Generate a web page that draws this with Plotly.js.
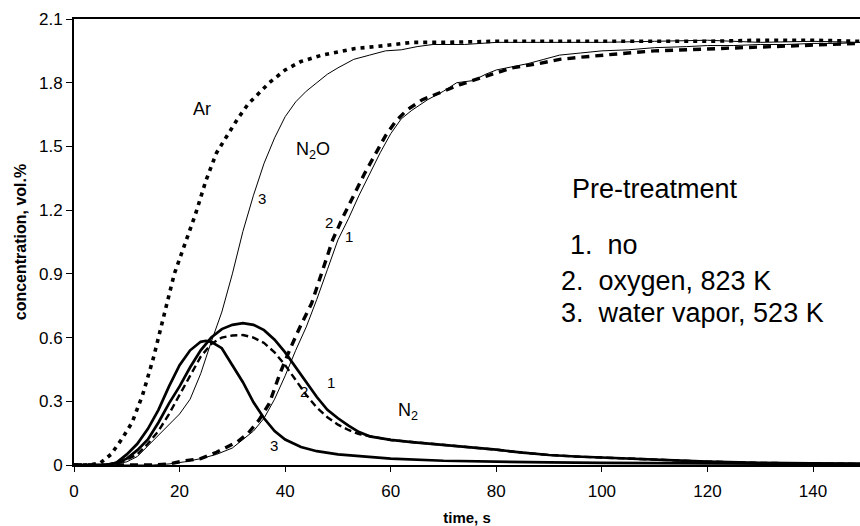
<!DOCTYPE html>
<html>
<head>
<meta charset="utf-8">
<script src="https://cdn.plot.ly/plotly-3.0.1.min.js"></script>
<style>html,body{margin:0;padding:0;background:#fff;}#chart{width:860px;height:526px;}</style>
</head>
<body>
<div id="chart"></div>
<script>
// ---- data ----
const arT = [0,3,5,7,9,11,13,15,17,19,21,23,25,27,29,31,33,35,37,40,43,47,53,59,64,70,80,90,100,110,120,130,140,149];
const arC = [0,0,0.01,0.05,0.12,0.2,0.33,0.5,0.7,0.9,1.04,1.18,1.34,1.47,1.55,1.63,1.7,1.75,1.8,1.86,1.9,1.93,1.96,1.975,1.99,1.99,1.995,1.995,1.995,1.995,1.995,2.0,2.0,1.995];

const n2o3T = [0,5,8,10,12,14,16,18,20,22,24,26,28,30,32,34,36,38,40,42,44,46,48,50,53,56,59,62,65,68,74,80,90,100,110,120,130,140,149];
const n2o3C = [0,0,0.005,0.015,0.04,0.09,0.14,0.19,0.24,0.31,0.43,0.58,0.72,0.9,1.1,1.27,1.42,1.54,1.64,1.71,1.76,1.8,1.84,1.87,1.91,1.93,1.95,1.955,1.97,1.98,1.98,1.99,1.99,1.99,1.995,2.0,1.99,1.995,1.99];

const n2o1T = [0,15,18,21,24,27,30,32,34,36,38,40,42,44,46,48,50,52,54,56,58,60,62,64,67,70,72.5,75.6,78,80,83,86,89,92,96,100,105,110,116,120,125,130,135,140,145,149];
const n2o1C = [0,0,0.005,0.015,0.03,0.05,0.08,0.12,0.16,0.22,0.31,0.42,0.54,0.65,0.78,0.92,1.06,1.16,1.27,1.37,1.47,1.56,1.63,1.67,1.72,1.76,1.8,1.81,1.84,1.86,1.875,1.89,1.91,1.93,1.94,1.95,1.955,1.965,1.97,1.975,1.975,1.98,1.98,1.985,1.985,1.99];

const n2o2T = [0,15,18,21,24,27,29,31,33,35,37,39,41,43,45,47,49,51,53,55,57,59,61,63,66,70,73,78,83,88,92,96,100,105,110,115,120,125,130,135,140,145,149];
const n2o2C = [0,0,0.005,0.02,0.03,0.06,0.085,0.11,0.15,0.21,0.29,0.43,0.55,0.66,0.76,0.91,1.06,1.17,1.27,1.37,1.46,1.55,1.62,1.67,1.72,1.76,1.79,1.83,1.87,1.89,1.91,1.92,1.93,1.94,1.95,1.955,1.96,1.965,1.97,1.975,1.98,1.985,1.985];

const n23T = [0,6,8,10,12,14,16,18,20,22,24,25,26,28,30,32,34,36,38,40,43,46,50,55,60,70,80,90,100,120,140,149];
const n23C = [0,0,0.01,0.05,0.1,0.17,0.26,0.37,0.47,0.54,0.58,0.585,0.58,0.55,0.47,0.39,0.295,0.22,0.16,0.12,0.085,0.065,0.05,0.04,0.03,0.02,0.015,0.012,0.01,0.008,0.006,0.005];

const n21T = [0,6,8,10,12,14,16,18,20,22,24,26,28,30,32,34,36,38,40,42,44,46,48,50,52,54,56,58,60,64,70,77,80,85,90,95,100,105,111,120,130,140,149];
const n21C = [0,0,0.01,0.03,0.07,0.12,0.2,0.29,0.37,0.46,0.54,0.6,0.64,0.66,0.668,0.66,0.635,0.59,0.53,0.46,0.39,0.32,0.26,0.22,0.185,0.155,0.135,0.125,0.118,0.108,0.095,0.08,0.072,0.058,0.047,0.04,0.035,0.03,0.024,0.016,0.01,0.007,0.005];

const n22T = [0,6,8,10,12,14,16,18,20,22,24,26,28,30,32,34,36,38,40,42,44,46,48,50,52,54,56,58,60,64,70,77,80,85,90,95,100,105,111,120,130,140,149];
const n22C = [0,0,0.008,0.025,0.05,0.1,0.16,0.24,0.33,0.42,0.51,0.57,0.6,0.61,0.612,0.6,0.575,0.53,0.47,0.4,0.33,0.27,0.225,0.19,0.165,0.145,0.135,0.125,0.118,0.108,0.095,0.08,0.072,0.058,0.047,0.04,0.035,0.03,0.024,0.016,0.01,0.007,0.005];

const xTickVals = [0,20,40,60,80,100,120,140];
const yTickVals = [0,0.3,0.6,0.9,1.2,1.5,1.8,2.1];
const yTickText = ['0','0.3','0.6','0.9','1.2','1.5','1.8','2.1'];

const FONT = 'Liberation Sans, Arial, sans-serif';

const traces = [
  {x:n23T, y:n23C, mode:'lines', line:{color:'#000', width:2.7}},
  {x:n21T, y:n21C, mode:'lines', line:{color:'#000', width:2.7}},
  {x:n22T, y:n22C, mode:'lines', line:{color:'#000', width:2.4, dash:'7px,4px'}},
  {x:n2o3T, y:n2o3C, mode:'lines', line:{color:'#000', width:1}},
  {x:n2o1T, y:n2o1C, mode:'lines', line:{color:'#000', width:1}},
  {x:n2o2T, y:n2o2C, mode:'lines', line:{color:'#000', width:3.4, dash:'8px,6px'}},
  {x:arT, y:arC, mode:'lines', line:{color:'#000', width:3.6, dash:'4px,5px'}}
];

function ann(x, y, text, size, extra) {
  return Object.assign({x:x, y:y, xref:'x', yref:'y', text:text, showarrow:false,
    font:{family:FONT, size:size, color:'#000'}}, extra || {});
}

const annotations = [
  ann(24.2, 1.676, 'Ar', 18),
  ann(45.3, 1.48, 'N<sub>2</sub>O', 18),
  ann(35.6, 1.257, '3', 15),
  ann(48.3, 1.144, '2', 15),
  ann(52.1, 1.078, '1', 15),
  ann(63.3, 0.25, 'N<sub>2</sub>', 18),
  ann(48.7, 0.39, '1', 15),
  ann(43.6, 0.348, '2', 15),
  ann(37.9, 0.09, '3', 15),
  ann(94.0, 1.30, 'Pre-treatment', 27, {xanchor:'left'}),
  ann(93.6, 1.035, '1.\u00a0\u00a0no', 27, {xanchor:'left'}),
  ann(91.8, 0.865, '2.\u00a0\u00a0oxygen, 823 K', 27, {xanchor:'left'}),
  ann(91.8, 0.715, '3.\u00a0\u00a0water vapor, 523 K', 27, {xanchor:'left'})
];

const layout = {
  width:860, height:526,
  margin:{l:74, r:0, t:19, b:61},
  paper_bgcolor:'#fff', plot_bgcolor:'#fff',
  showlegend:false,
  font:{family:FONT, color:'#000'},
  xaxis:{
    range:[0,148.9], tickvals:xTickVals, ticks:'outside', ticklen:5, tickwidth:1, tickcolor:'#000',
    ticklabelstandoff:5,
    showline:true, linewidth:2, linecolor:'#000', mirror:true, showgrid:false, zeroline:false,
    tickfont:{family:FONT, size:17, color:'#000'},
    title:{text:'<b>time, s</b>', font:{family:FONT, size:15, color:'#000'}, standoff:14}
  },
  yaxis:{
    range:[0,2.1], tickvals:yTickVals, ticktext:yTickText, ticks:'outside', ticklen:6, tickwidth:1, tickcolor:'#000',
    showline:true, linewidth:2, linecolor:'#000', showgrid:false, zeroline:false,
    tickfont:{family:FONT, size:17, color:'#000'},
    title:{text:'<b>concentration, vol.%</b>', font:{family:FONT, size:16, color:'#000'}, standoff:8}
  },
  annotations:annotations
};

Plotly.newPlot('chart', traces, layout, {displayModeBar:false, staticPlot:true});
</script>
</body>
</html>
